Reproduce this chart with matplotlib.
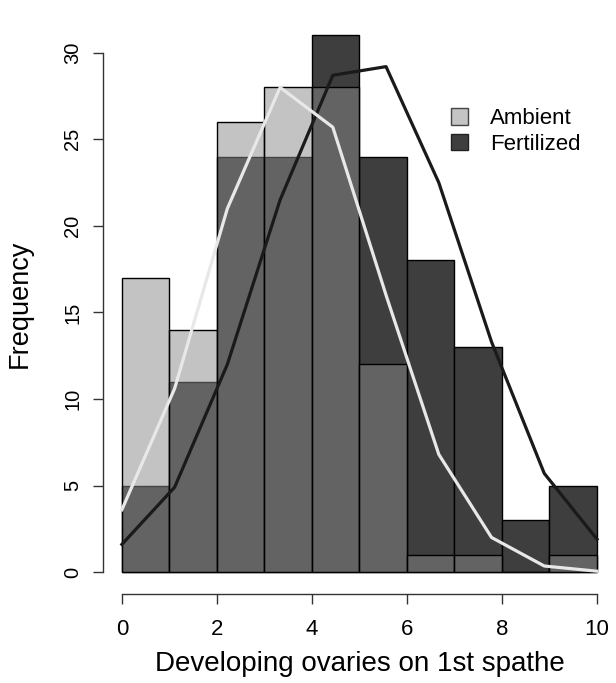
import numpy as np
import matplotlib
matplotlib.use("Agg")
import matplotlib.pyplot as plt
from matplotlib.patches import Patch

plt.rcParams['font.family'] = ['Liberation Sans', 'DejaVu Sans']

# --- data ---
bin_edges = [0, 1, 2, 3, 4, 5, 6, 7, 8, 9, 10]
ambient_counts = [17, 14, 26, 28, 28, 12, 1, 1, 0, 1]
fertilized_counts = [5, 11, 24, 24, 31, 24, 18, 13, 3, 5]

curve_x = [0, 1.11, 2.22, 3.33, 4.44, 5.56, 6.67, 7.78, 8.89, 10]
ambient_curve = [3.6, 10.6, 21.0, 28.0, 25.7, 16.0, 6.8, 2.0, 0.35, 0.05]
fertilized_curve = [1.6, 4.9, 12.0, 21.5, 28.7, 29.2, 22.5, 13.3, 5.7, 1.9]

x_ticks = [0, 2, 4, 6, 8, 10]
y_ticks = [0, 5, 10, 15, 20, 25, 30]

fig = plt.figure(figsize=(6.16, 6.83), dpi=100)
ax = fig.add_axes([0.167, 0.131, 0.833, 0.8485])

left = np.array(bin_edges[:-1])
width = np.diff(bin_edges)

# fertilized solid, ambient semi-transparent on top
ax.bar(left, fertilized_counts, width=width, align='edge',
       facecolor='#3e3e3e', edgecolor='black', linewidth=1.0, zorder=2)
ax.bar(left, ambient_counts, width=width, align='edge',
       facecolor=(137/255, 137/255, 137/255, 0.5), edgecolor='black',
       linewidth=1.0, zorder=3)

ax.plot(curve_x, fertilized_curve, color='#1a1a1a', lw=2.3, zorder=4)
ax.plot(curve_x, ambient_curve, color='#e8e8e8', lw=2.3, zorder=5)

ax.set_xlim(-0.4, 10.4)
ax.set_ylim(-1.24, 32.24)

for s in ['top', 'right']:
    ax.spines[s].set_visible(False)
ax.spines['left'].set_bounds(0, 30)
ax.spines['bottom'].set_bounds(0, 10)
for s in ['left', 'bottom']:
    ax.spines[s].set_linewidth(1.0)
    ax.spines[s].set_color('#333333')

ax.set_xticks(x_ticks)
ax.set_yticks(y_ticks)
ax.tick_params(axis='both', length=7, width=1.0, color='#333333')
ax.tick_params(axis='x', pad=11, labelsize=16)
ax.tick_params(axis='y', pad=8, labelsize=14.5)
for lab in ax.get_yticklabels():
    lab.set_rotation(90)
    lab.set_va('center')

ax.set_xlabel("Developing ovaries on 1st spathe", fontsize=20)
ax.xaxis.set_label_coords(0.5, -0.10)
ax.set_ylabel("Frequency", fontsize=19.5)
ax.yaxis.set_label_coords(-0.136, 0.5)

handles = [Patch(facecolor='#c4c4c4', edgecolor='#444444', label='Ambient'),
           Patch(facecolor='#3e3e3e', edgecolor='#222222', label='Fertilized')]
ax.legend(handles=handles, loc='upper left', bbox_to_anchor=(0.64, 0.872),
          frameon=False, fontsize=16, handlelength=0.75, handleheight=0.75,
          handletextpad=1.0, labelspacing=0.2)

fig.savefig("out.png", dpi=100)
